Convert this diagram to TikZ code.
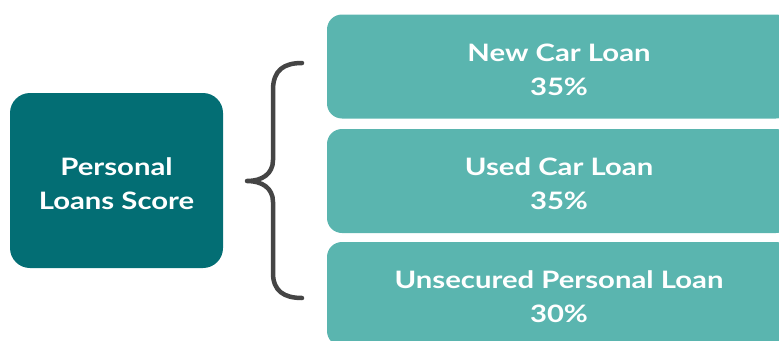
\documentclass[tikz,border=0pt]{standalone}
\usepackage{fontspec}
\setmainfont{Lato}[FakeStretch=1.22]
\definecolor{darkteal}{HTML}{036E74}
\definecolor{lightteal}{HTML}{5AB5AF}
\definecolor{bracegray}{HTML}{454545}
\begin{document}
\begin{tikzpicture}[x=1pt,y=-1pt,
  lbl/.style={text=white,align=center,inner sep=0pt,font=\bfseries\fontsize{24}{34}\selectfont},
  mainbox/.style={fill=darkteal,rounded corners=20pt,minimum width=213pt,minimum height=175pt,inner sep=0pt},
  itembox/.style={fill=lightteal,rounded corners=15pt,minimum width=464pt,minimum height=104pt,inner sep=0pt},
  bracestyle/.style={draw=bracegray,line width=4.5pt,line cap=round,line join=round}]
\useasboundingbox (0,0) rectangle (779,340);
\clip (0,0) rectangle (779,340);
\node[mainbox] (main) at (116.5,180.5) {};
\node[itembox] (new) at (559,66.5) {};
\node[itembox] (used) at (559,181) {};
\node[itembox] (unsec) at (559,294) {};
\node[lbl] (maintxt) at ([yshift=-3pt]main.center) {Personal\\Loans Score};
\node[lbl] (newtxt) at ([yshift=-3pt]new.center) {New Car Loan\\35\%};
\node[lbl] (usedtxt) at ([yshift=-3pt]used.center) {Used Car Loan\\35\%};
\node[lbl] (unsectxt) at ([yshift=-3pt]unsec.center) {Unsecured Personal Loan\\30\%};
\coordinate (btop) at (302,63);
\coordinate (btip) at (247,181);
\coordinate (bbot) at (302,298);
\draw[bracestyle] (btop) .. controls (284,63) and (273,70) .. (273,90) -- (273,160)
  .. controls (273,174) and (262,181) .. (btip)
  .. controls (262,181) and (273,188) .. (273,202) -- (273,273)
  .. controls (273,291) and (284,298) .. (bbot);
\end{tikzpicture}
\end{document}
